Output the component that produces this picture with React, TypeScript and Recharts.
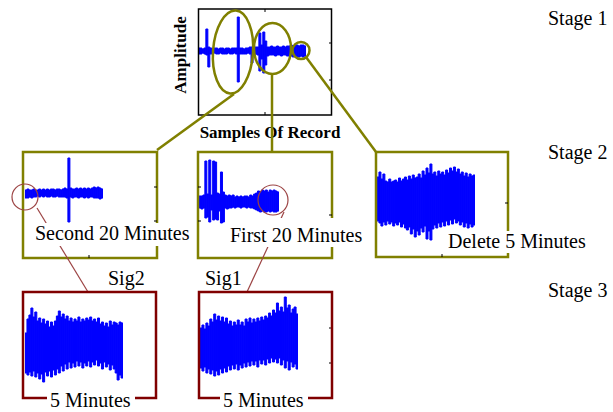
import { Bar, BarChart, XAxis, YAxis } from "recharts";

// Stage 1: whole record, envelope above / below the baseline (one sample every 2px)
const recHi = [3, 3, 2, 3, 22, 4, 3, 2, 3, 3, 2, 3, 3, 2, 3, 3, 2, 3, 3, 3, 34, 3, 3, 2, 3, 3, 4, 4, 3, 4, 4, 18, 6, 19, 10, 4, 4, 5, 4, 4, 5, 4, 4, 5, 4, 5, 5, 6, 5, 6, 6, 5, 6, 6, 5];
const recLo = [-3, -3, -2, -3, -4, -16, -3, -3, -2, -3, -3, -2, -3, -3, -3, -2, -3, -3, -2, -3, -31, -3, -3, -3, -3, -2, -3, -12, -4, -3, -4, -20, -8, -22, -14, -5, -4, -4, -4, -5, -4, -4, -5, -4, -4, -5, -5, -5, -6, -5, -6, -6, -5, -6, -5];

// Stage 2
const secondHi = [3, 4, 3, 3, 4, 3, 3, 4, 3, 4, 3, 4, 3, 4, 4, 3, 4, 4, 3, 4, 5, 4, 35, 5, 4, 4, 5, 4, 5, 4, 5, 4, 5, 4, 5, 6, 5, 6, 5, 4];
const secondLo = [-5, -5, -4, -5, -4, -4, -3, -4, -3, -4, -3, -4, -4, -3, -4, -4, -3, -4, -4, -4, -4, -5, -29, -4, -5, -4, -4, -5, -4, -4, -5, -4, -5, -4, -4, -5, -5, -5, -6, -5];
const firstHi = [6, 6, 7, 41, 8, 42, 7, 41, 40, 9, 8, 30, 10, 7, 6, 7, 6, 7, 5, 6, 5, 6, 5, 6, 6, 5, 7, 6, 8, 9, 11, 10, 12, 11, 12, 10, 12, 11, 12, 11, 10];
const firstLo = [-6, -7, -6, -16, -15, -20, -8, -18, -17, -18, -9, -21, -20, -6, -7, -6, -6, -5, -6, -5, -5, -6, -5, -5, -6, -5, -6, -6, -7, -8, -9, -10, -9, -10, -10, -9, -10, -9, -10, -10, -9];
const deleteHi = [24, 29, 22, 27, 20, 19, 22, 19, 20, 21, 19, 23, 20, 22, 24, 21, 25, 22, 26, 23, 24, 27, 23, 30, 26, 33, 28, 37, 27, 29, 25, 30, 27, 29, 26, 31, 28, 33, 30, 34, 29, 32, 27, 29, 25, 28, 24, 27, 25, 26];
const deleteLo = [-20, -22, -25, -21, -24, -20, -23, -21, -25, -22, -24, -21, -26, -23, -27, -29, -26, -33, -28, -36, -30, -34, -27, -31, -25, -38, -30, -39, -28, -24, -27, -22, -26, -21, -25, -20, -24, -19, -23, -18, -22, -20, -24, -21, -26, -22, -27, -23, -26, -24];

// Stage 3: the two 5 minute pieces
const sig2Hi = [12, 26, 30, 37, 28, 33, 24, 27, 22, 26, 21, 24, 18, 23, 19, 24, 29, 34, 28, 31, 26, 29, 24, 27, 23, 26, 24, 28, 23, 26, 24, 27, 25, 28, 24, 26, 23, 27, 21, 23, 19, 22, 18, 24, 20, 23, 22, 20, 23, 22];
const sig2Lo = [-28, -30, -27, -31, -26, -32, -28, -34, -29, -37, -27, -31, -26, -32, -25, -30, -24, -28, -21, -26, -19, -24, -17, -23, -18, -22, -16, -21, -17, -23, -18, -21, -16, -22, -17, -20, -15, -21, -18, -24, -17, -22, -19, -25, -20, -24, -28, -35, -30, -33];
const sig1Hi = [15, 18, 14, 20, 17, 24, 21, 29, 23, 27, 22, 26, 21, 25, 19, 22, 17, 21, 18, 23, 18, 21, 17, 24, 21, 25, 20, 24, 21, 25, 22, 26, 23, 27, 25, 30, 27, 33, 30, 40, 32, 36, 31, 46, 35, 38, 30, 34, 36, 29];
const sig1Lo = [-25, -28, -24, -30, -26, -31, -27, -33, -28, -32, -26, -30, -25, -29, -23, -27, -22, -26, -21, -27, -22, -25, -20, -24, -19, -23, -18, -22, -18, -24, -17, -21, -17, -22, -16, -20, -15, -19, -16, -20, -15, -22, -17, -25, -18, -27, -19, -24, -21, -26];

const OLIVE = "#808000";
const MAROON = "#800000";
const THIN_RED = "#9c4444";
const BLUE = "#0000ff";
const SERIF = '"Liberation Serif", "Times New Roman", serif';

// each sample drawn as a floating bar [lo, hi]
function Wave({ hi, lo, x, y, w, h, base }: {
  hi: number[]; lo: number[]; x: number; y: number; w: number; h: number; base: number;
}) {
  const data = hi.map((v, i) => ({ i, r: [lo[i], v] }));
  return (
    <div style={{ position: "absolute", left: x, top: y }}>
      <BarChart width={w} height={h} data={data} margin={{ top: 0, right: 0, bottom: 0, left: 0 }}
        barCategoryGap={0} barGap={0}>
        <XAxis dataKey="i" hide />
        <YAxis type="number" domain={[base - y - h, base - y]} allowDataOverflow hide />
        <Bar dataKey="r" fill={BLUE} stroke={BLUE} strokeWidth={1} activeBar={false} isAnimationActive={false} />
      </BarChart>
    </div>
  );
}

function Label({ x, y, children, bg }: { x: number; y: number; children: string; bg?: [number, number, number, number] }) {
  return (
    <g>
      {bg && <rect x={bg[0]} y={bg[1]} width={bg[2]} height={bg[3]} fill="#fff" />}
      <text x={x} y={y} fontSize={20} fontFamily={SERIF} fill="#000">{children}</text>
    </g>
  );
}

export default function App() {
  return (
    <div style={{ position: "fixed", left: 0, top: 0, width: 613, height: 412, background: "#fff", fontFamily: SERIF }}>
      <Wave hi={recHi} lo={recLo} x={198} y={9} w={108} h={106} base={51} />
      <Wave hi={secondHi} lo={secondLo} x={25} y={152} w={78} h={106} base={193} />
      <Wave hi={firstHi} lo={firstLo} x={199} y={152} w={80} h={106} base={202} />
      <Wave hi={deleteHi} lo={deleteLo} x={377} y={152} w={98} h={105} base={201} />
      <Wave hi={sig2Hi} lo={sig2Lo} x={25} y={292} w={98} h={106} base={345} />
      <Wave hi={sig1Hi} lo={sig1Lo} x={200} y={292} w={98} h={106} base={343} />

      <svg width={613} height={412} style={{ position: "absolute", left: 0, top: 0 }}>
        {/* stage 1 frame */}
        <rect x={198.5} y={9} width={133} height={106} fill="none" stroke="#000" strokeWidth={1.5} />
        <g stroke="#000" strokeWidth={1}>
          <line x1={265} y1={9} x2={265} y2={12} />
          <line x1={265} y1={115} x2={265} y2={112} />
          <line x1={332} y1={43} x2={329} y2={43} />
          <line x1={332} y1={80} x2={329} y2={80} />
        </g>
        <text x={0} y={0} transform="translate(186 55) rotate(-90)" textAnchor="middle"
          fontSize={17} fontWeight="bold" fontFamily={SERIF}>Amplitude</text>
        <text x={270} y={138} textAnchor="middle" fontSize={17} fontWeight="bold" fontFamily={SERIF}>Samples Of Record</text>

        {/* selections and links to stage 2 */}
        <g fill="none" stroke={OLIVE} strokeWidth={2.5}>
          <ellipse cx={233} cy={52} rx={20} ry={41.5} transform="rotate(4 233 52)" />
          <ellipse cx={272.5} cy={48.5} rx={18.5} ry={25.5} />
          <ellipse cx={301} cy={50.5} rx={8.5} ry={8.5} />
          <line x1={234} y1={94} x2={157} y2={150} />
          <line x1={272} y1={74} x2={272} y2={152} />
          <line x1={306} y1={57} x2={376} y2={152} />
          <rect x={23} y={152} width={134} height={106} />
          <rect x={198} y={152} width={134} height={106} />
          <rect x={376} y={152} width={132} height={105} />
        </g>
        <g stroke="#000" strokeWidth={1}>
          <line x1={157} y1={187} x2={154} y2={187} />
          <line x1={157} y1={221} x2={154} y2={221} />
          <line x1={89} y1={258} x2={89} y2={255} />
          <line x1={198} y1={187} x2={201} y2={187} />
          <line x1={198} y1={221} x2={201} y2={221} />
          <line x1={332} y1={215} x2={329} y2={215} />
          <line x1={508} y1={203} x2={505} y2={203} />
          <line x1={442} y1={257} x2={442} y2={254} />
          <line x1={332} y1={328} x2={329} y2={328} />
          <line x1={332} y1={363} x2={329} y2={363} />
        </g>

        {/* 5 minute picks and links to stage 3 */}
        <g fill="none" stroke={THIN_RED} strokeWidth={1.2}>
          <circle cx={25} cy={197} r={13} />
          <circle cx={273} cy={200} r={15} />
          <line x1={37} y1={208} x2={88} y2={292} />
          <line x1={284} y1={212} x2={247} y2={292} />
        </g>
        <g fill="none" stroke={MAROON} strokeWidth={2.5}>
          <rect x={23} y={292} width={133} height={106} />
          <rect x={199} y={292} width={133} height={106} />
        </g>

        <Label x={548} y={25}>Stage 1</Label>
        <Label x={548} y={159}>Stage 2</Label>
        <Label x={548} y={297}>Stage 3</Label>
        <Label x={35} y={240} bg={[33, 223, 162, 23]}>Second 20 Minutes</Label>
        <Label x={230} y={242} bg={[228, 218, 140, 29]}>First 20 Minutes</Label>
        <Label x={448} y={248} bg={[446, 231, 142, 22]}>Delete 5 Minutes</Label>
        <Label x={108} y={285}>Sig2</Label>
        <Label x={205} y={285}>Sig1</Label>
        <Label x={50} y={407} bg={[47, 390, 88, 22]}>5 Minutes</Label>
        <Label x={223} y={407} bg={[220, 390, 88, 22]}>5 Minutes</Label>
      </svg>
    </div>
  );
}
